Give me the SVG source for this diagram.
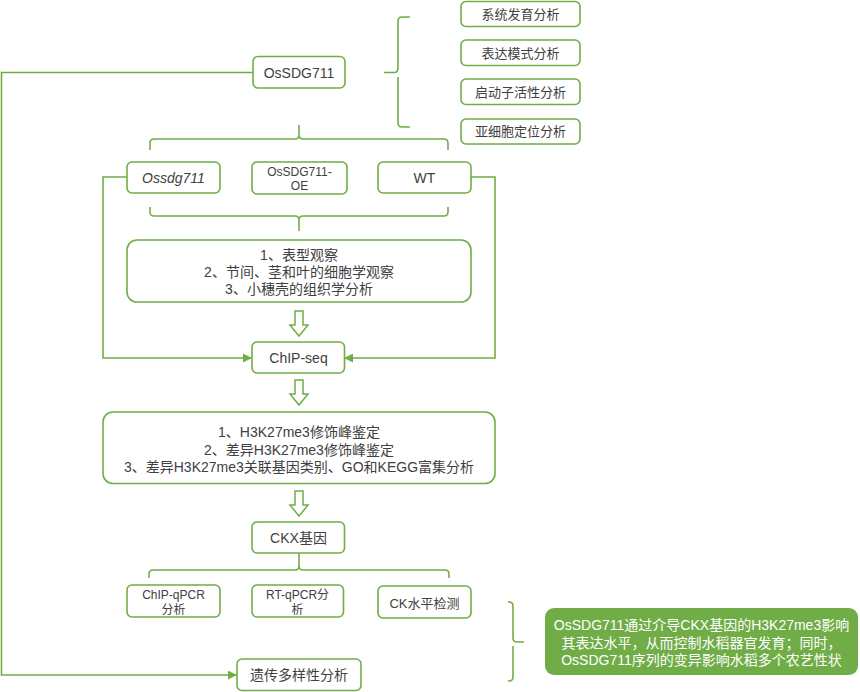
<svg xmlns="http://www.w3.org/2000/svg" width="860" height="692" viewBox="0 0 860 692">
<defs>
<style>
.box{fill:#fff;stroke:#70ad47;stroke-width:1.6}
.ln{fill:none;stroke:#70ad47;stroke-width:1.6}
.t{font-family:"Liberation Sans","Noto Sans CJK SC",sans-serif;fill:#404040;text-anchor:middle}
.c{dominant-baseline:central}
.s14{font-size:14px}
.s13{font-size:13px}
.s12{font-size:12px}
.hol{fill:#fff;stroke:#70ad47;stroke-width:1.5}
</style>
<marker id="ah" viewBox="0 0 10 10" refX="9" refY="5" markerWidth="9" markerHeight="9" markerUnits="userSpaceOnUse" orient="auto">
<path d="M0,0 L10,5 L0,10 z" fill="#70ad47"/>
</marker>
</defs>
<rect width="860" height="692" fill="#fff"/>

<g id="connectors">
<path class="ln" d="M253,72.5 H1.5 V675 H236" marker-end="url(#ah)"/>
<path class="ln" d="M384,72.5 H394 Q398,72.5 398,68 V21 Q398,17 402,17 H410 M398,77 V123 Q398,127 402,127 H410"/>
<path class="ln" d="M299,125 V135 Q299,139 295,139 H154 Q150,139 150,143 V150 M299,135 Q299,139 303,139 H444 Q448,139 448,143 V150"/>
<path class="ln" d="M150,207 V212 Q150,216 154,216 H295 Q299,216 299,220 V231 M448,207 V212 Q448,216 444,216 H303 Q299,216 299,220"/>
<path class="ln" d="M127,177 H103 V358 H251" marker-end="url(#ah)"/>
<path class="ln" d="M471,177 H495 V358 H345" marker-end="url(#ah)"/>
<path class="hol" d="M295,311 H303 V325 H308 L299,336 L290,325 H295 Z"/>
<path class="hol" d="M295,380 H303 V394 H308 L299,405 L290,394 H295 Z"/>
<path class="hol" d="M295,491 H303 V505 H308 L299,516 L290,505 H295 Z"/>
<path class="ln" d="M299,553 V566 Q299,570 295,570 H153 Q149,570 149,574 V578 M299,566 Q299,570 303,570 H445 Q449,570 449,574 V578"/>
<path class="ln" d="M508,602 H509 Q513,602 513,606 V638 Q513,642 517,642 H524 M513,646 V677 Q513,681 509,681 H508"/>
</g>

<g id="n-ossdg711-main">
<rect class="box" x="253" y="56.5" width="92" height="31.5" rx="5"/>
<text class="t c s14" x="299" y="72.5">OsSDG711</text>
</g>
<g id="n-phylo">
<rect class="box" x="461" y="1.5" width="119" height="25" rx="5"/>
<text class="t c s13" x="520.5" y="14">系统发育分析</text>
</g>
<g id="n-expr">
<rect class="box" x="461" y="40" width="119" height="25.5" rx="5"/>
<text class="t c s13" x="520.5" y="53">表达模式分析</text>
</g>
<g id="n-promoter">
<rect class="box" x="461" y="79" width="119" height="25.5" rx="5"/>
<text class="t c s13" x="520.5" y="92">启动子活性分析</text>
</g>
<g id="n-subcell">
<rect class="box" x="461" y="119" width="119" height="25" rx="5"/>
<text class="t c s13" x="520.5" y="131.5">亚细胞定位分析</text>
</g>
<g id="n-mutant">
<rect class="box" x="127" y="162" width="93" height="31" rx="5"/>
<text class="t c s14" x="173.5" y="177.5" font-style="italic">Ossdg711</text>
</g>
<g id="n-oe">
<rect class="box" x="252" y="162" width="95" height="32" rx="5"/>
<text class="t s12" x="299.5" y="176"><tspan x="299.5" y="176">OsSDG711-</tspan><tspan x="299.5" y="190">OE</tspan></text>
</g>
<g id="n-wt">
<rect class="box" x="378" y="162" width="93" height="31" rx="5"/>
<text class="t c s14" x="424.5" y="177.5">WT</text>
</g>
<g id="n-pheno">
<rect class="box" x="127" y="240" width="344" height="62" rx="10"/>
<text class="t s14" x="299" y="260"><tspan x="299" y="260">1、表型观察</tspan><tspan x="299" y="277">2、节间、茎和叶的细胞学观察</tspan><tspan x="299" y="294">3、小穗壳的组织学分析</tspan></text>
</g>
<g id="n-chipseq">
<rect class="box" x="252" y="342" width="92.5" height="31" rx="5"/>
<text class="t c s14" x="298.5" y="358">ChIP-seq</text>
</g>
<g id="n-h3k27">
<rect class="box" x="103" y="412" width="392" height="71.5" rx="10"/>
<text class="t s14" x="299" y="437"><tspan x="299" y="437">1、H3K27me3修饰峰鉴定</tspan><tspan x="299" y="454.5">2、差异H3K27me3修饰峰鉴定</tspan><tspan x="299" y="472">3、差异H3K27me3关联基因类别、GO和KEGG富集分析</tspan></text>
</g>
<g id="n-ckx">
<rect class="box" x="252" y="522" width="92.5" height="31" rx="5"/>
<text class="t c s14" x="298.5" y="538">CKX基因</text>
</g>
<g id="n-chipqpcr">
<rect class="box" x="127" y="585" width="93" height="32" rx="5"/>
<text class="t s12" x="173.5" y="599"><tspan x="173.5" y="599">ChIP-qPCR</tspan><tspan x="173.5" y="614">分析</tspan></text>
</g>
<g id="n-rtqpcr">
<rect class="box" x="252" y="585" width="91.5" height="32" rx="5"/>
<text class="t s12" x="297.5" y="599"><tspan x="297.5" y="599">RT-qPCR分</tspan><tspan x="297.5" y="614">析</tspan></text>
</g>
<g id="n-cklevel">
<rect class="box" x="378" y="586" width="93" height="32" rx="5"/>
<text class="t c s13" x="424.5" y="603">CK水平检测</text>
</g>
<g id="n-diversity">
<rect class="box" x="237" y="659" width="124" height="31.5" rx="5"/>
<text class="t c s14" x="299" y="675">遗传多样性分析</text>
</g>
<g id="n-conclusion">
<rect x="545" y="608" width="313" height="67" rx="9" fill="#70ad47"/>
<text class="t s14" x="701.5" y="630" style="fill:#fff"><tspan x="701.5" y="630">OsSDG711通过介导CKX基因的H3K27me3影响</tspan><tspan x="701.5" y="647.5">其表达水平，从而控制水稻器官发育；同时，</tspan><tspan x="701.5" y="665">OsSDG711序列的变异影响水稻多个农艺性状</tspan></text>
</g>
</svg>
